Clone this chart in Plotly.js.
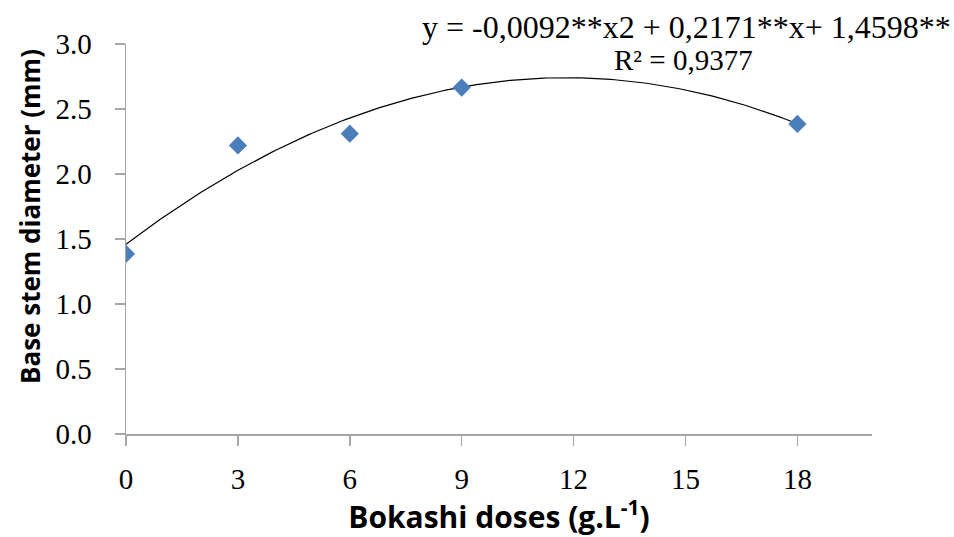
<!DOCTYPE html>
<html>
<head>
<meta charset="utf-8">
<script src="https://cdn.plot.ly/plotly-3.0.1.min.js"></script>
<style>html,body{margin:0;padding:0;background:#fff;}#chart{width:954px;height:537px;}</style>
</head>
<body>
<div id="chart"></div>
<script>
const doses = [0, 3, 6, 9, 18];
const diameter = [1.385, 2.22, 2.31, 2.665, 2.385];
const xTicks = [0, 3, 6, 9, 12, 15, 18];
const yTicks = [0, 0.5, 1.0, 1.5, 2.0, 2.5, 3.0];
const yTickText = ['0.0', '0.5', '1.0', '1.5', '2.0', '2.5', '3.0'];
// Fitted quadratic shown on the chart: y = a x^2 + b x + c
const fitCoef = [-0.0092, 0.2171, 1.4598];

const fitX = [];
const fitY = [];
for (let i = 0; i <= 180; i++) {
  const x = i * 0.1;
  fitX.push(x);
  fitY.push(fitCoef[0] * x * x + fitCoef[1] * x + fitCoef[2]);
}

const serif = 'Liberation Serif, Times New Roman, serif';
const traces = [
  {x: fitX, y: fitY, mode: 'lines', line: {color: '#000000', width: 1.2}, hoverinfo: 'skip', showlegend: false},
  {x: doses, y: diameter, mode: 'markers', marker: {symbol: 'diamond', size: 14, color: '#4a7ebb'}, showlegend: false}
];

const layout = {
  width: 954, height: 537,
  margin: {l: 126, r: 82, t: 44, b: 103},
  paper_bgcolor: '#ffffff', plot_bgcolor: '#ffffff',
  showlegend: false,
  xaxis: {
    range: [0, 20], tickvals: xTicks, ticktext: xTicks.map(String),
    showgrid: false, zeroline: false, showline: true, linecolor: '#a6a6a6', linewidth: 1.5,
    ticks: 'outside', ticklen: 10, tickcolor: '#a6a6a6', tickwidth: 1.5,
    tickfont: {family: serif, size: 29, color: '#000'},
    ticklabelstandoff: 9,
    title: {text: '<b>Bokashi doses (g.L<sup>-1</sup>)</b>', font: {family: 'Open Sans, sans-serif', size: 30, color: '#000'}, standoff: 4}
  },
  yaxis: {
    range: [0, 3.0], tickvals: yTicks, ticktext: yTickText,
    showgrid: false, zeroline: false, showline: true, linecolor: '#a6a6a6', linewidth: 1.5,
    ticks: 'outside', ticklen: 10, tickcolor: '#a6a6a6', tickwidth: 1.5,
    tickfont: {family: serif, size: 29, color: '#000'},
    ticklabelstandoff: 17
  },
  annotations: [
    {xref: 'paper', yref: 'paper', x: -0.1287, y: 0.559, xanchor: 'center', yanchor: 'middle', showarrow: false, textangle: -90,
     text: '<b>Base stem diameter (mm)</b>', font: {family: 'Open Sans, sans-serif', size: 26, color: '#000'}},
    {xref: 'paper', yref: 'paper', x: 0.752, y: 1.043, xanchor: 'center', yanchor: 'middle', showarrow: false,
     text: 'y = -0,0092**x2 + 0,2171**x+ 1,4598**', font: {family: serif, size: 32, color: '#000'}},
    {xref: 'paper', yref: 'paper', x: 0.747, y: 0.958, xanchor: 'center', yanchor: 'middle', showarrow: false,
     text: 'R² = 0,9377', font: {family: serif, size: 29, color: '#000'}}
  ]
};

Plotly.newPlot('chart', traces, layout, {displayModeBar: false, staticPlot: true});
</script>
</body>
</html>
